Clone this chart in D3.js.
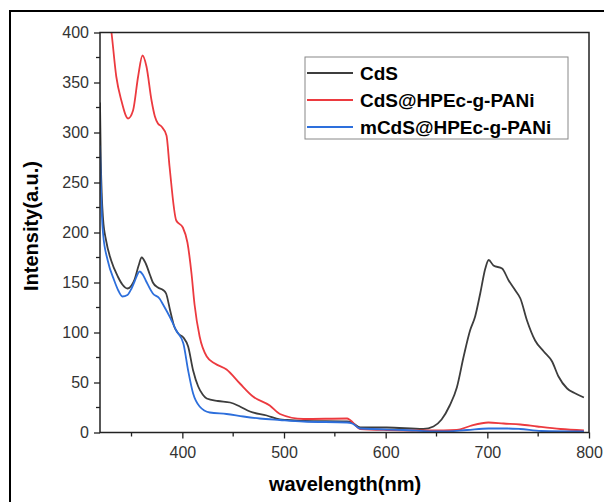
<!DOCTYPE html>
<html>
<head>
<meta charset="utf-8">
<script src="https://cdn.jsdelivr.net/npm/d3@7"></script>
<style>
	body { margin: 0; background: #fff; }
	text { font-family: Arial, "Liberation Sans", Helvetica, sans-serif; }
</style>
</head>
<body>
<div id="chart"></div>
<script>
var seriesNames = ['CdS', 'CdS@HPEc-g-PANi', 'mCdS@HPEc-g-PANi'];
var seriesColor = ['#3d3d3d', '#ec3a3f', '#2d6fdc'];
var xTicks = [400, 500, 600, 700, 800];
var yTicks = [0, 50, 100, 150, 200, 250, 300, 350, 400];

// [wavelength, intensity]
var cds = [[319, 330], [319.8, 272], [320.8, 236], [322, 214], [325, 192], [330, 172], [336.5, 156], [341, 148],
	[346, 144], [350, 147], [353, 153], [357, 167], [360, 175], [364, 169], [368, 158], [371, 150], [376, 145],
	[381, 142.5], [384, 139], [388, 122], [392, 106], [396, 99], [401, 95], [405.7, 86], [410.6, 62], [415.6, 46],
	[420, 38], [424, 34], [435, 31.5], [447, 30], [456.6, 26], [466.5, 21], [483, 17], [496, 13], [503, 12.5],
	[520, 11.5], [562, 11], [567, 10], [575, 5], [601, 5], [637, 3.5], [647, 6], [655, 13], [663, 27], [670, 45],
	[676.7, 76], [683, 102], [688, 116], [693, 139], [698, 164], [701.3, 172.5], [706, 167], [714.5, 164],
	[721, 152], [727.6, 142], [732.5, 134], [739, 112], [747, 92], [755.5, 81], [763.7, 71], [770, 56],
	[778.5, 44], [786.7, 39], [795, 35]];
var cdsPani = [[318.5, 520], [325, 440], [330.3, 400], [335, 356], [340, 332], [346.6, 314], [351.5, 322],
	[356.5, 356], [360.8, 377], [364.7, 366], [369.7, 332], [373, 316], [376, 309], [379.5, 306], [384.4, 297],
	[387.4, 266], [394, 212], [400.5, 205], [405, 190], [409, 159], [412, 128], [417, 96], [424, 76], [432, 69],
	[443.5, 63], [456.6, 49], [469.5, 36], [486, 27], [496, 18.5], [519, 13.5], [562, 14], [565, 12.5],
	[575, 3.5], [601, 2.5], [644, 2], [670, 2.5], [683, 6.5], [701, 10], [716, 9], [732.5, 8], [749, 6],
	[772, 3.5], [795, 2]];
var mcdsPani = [[319, 287], [319.8, 250], [320.8, 218], [322, 199], [326.6, 172], [333, 152], [337, 142],
	[341, 136], [346, 137.5], [350, 144], [353, 151], [358, 161], [361, 158], [364, 152], [371, 139],
	[377.5, 134], [381, 128], [388, 115], [394, 102], [401, 89], [405.7, 62], [410.6, 39], [417, 26], [427, 20],
	[443.5, 18.5], [460, 16], [476, 14], [496, 12.5], [519, 11], [562, 10], [567, 9], [575, 4], [617, 2.5],
	[654, 1], [680, 2.5], [701, 4], [720, 4], [732, 3.5], [753, 1.5], [795, 1]];
var allSeries = [cds, cdsPani, mcdsPani];

var width = 604, height = 502;
var plot = { left: 100, right: 589, top: 32.5, bottom: 432.5 };

var svg = d3.select('#chart').append('svg')
	.attr('width', width)
	.attr('height', height);

// outer frame, runs off the right and bottom edge
svg.append('rect')
	.attr('x', 10).attr('y', 11)
	.attr('width', 620).attr('height', 520)
	.attr('fill', '#fff')
	.attr('stroke', '#000')
	.attr('stroke-width', 2);

var xScale = d3.scaleLinear().domain([319, 800]).range([plot.left, plot.right]);
var yScale = d3.scaleLinear().domain([0, 400]).range([plot.bottom, plot.top]);

svg.append('clipPath').attr('id', 'clip')
	.append('rect')
	.attr('x', plot.left).attr('y', plot.top)
	.attr('width', plot.right - plot.left).attr('height', plot.bottom - plot.top);

var line = d3.line()
	.x(d => xScale(d[0]))
	.y(d => yScale(d[1]))
	.curve(d3.curveMonotoneX);

svg.append('g')
	.attr('clip-path', 'url(#clip)')
	.selectAll('path')
	.data(allSeries)
	.enter()
	.append('path')
	.attr('d', line)
	.attr('fill', 'none')
	.attr('stroke', (d, i) => seriesColor[i])
	.attr('stroke-width', 1.8)
	.attr('stroke-linejoin', 'round');

// axes
var axisColor = '#222';
var xAxis = d3.axisBottom(xScale).tickValues(xTicks).tickSize(6).tickPadding(8);
var yAxis = d3.axisLeft(yScale).tickValues(yTicks).tickSize(6).tickPadding(5);

var gx = svg.append('g')
	.attr('transform', 'translate(0,' + plot.bottom + ')')
	.call(xAxis);
var gy = svg.append('g')
	.attr('transform', 'translate(' + plot.left + ',0)')
	.call(yAxis);

// minor ticks
svg.append('g')
	.selectAll('line')
	.data([350, 450, 550, 650, 750])
	.enter()
	.append('line')
	.attr('x1', d => xScale(d)).attr('x2', d => xScale(d))
	.attr('y1', plot.bottom).attr('y2', plot.bottom + 4)
	.attr('stroke', axisColor).attr('stroke-width', 1.3);
svg.append('g')
	.selectAll('line')
	.data([25, 75, 125, 175, 225, 275, 325, 375])
	.enter()
	.append('line')
	.attr('y1', d => yScale(d)).attr('y2', d => yScale(d))
	.attr('x1', plot.left - 4).attr('x2', plot.left)
	.attr('stroke', axisColor).attr('stroke-width', 1.3);

[gx, gy].forEach(g => {
	g.select('.domain').remove();
	g.selectAll('.tick line').attr('stroke', axisColor).attr('stroke-width', 1.3);
	g.selectAll('.tick text')
		.attr('fill', '#333')
		.style('font-size', '16px')
		.style('font-family', 'Arial, "Liberation Sans", sans-serif');
});

// box around plot
svg.append('rect')
	.attr('x', plot.left).attr('y', plot.top)
	.attr('width', plot.right - plot.left).attr('height', plot.bottom - plot.top)
	.attr('fill', 'none')
	.attr('stroke', axisColor)
	.attr('stroke-width', 1.5);

// axis titles
svg.append('text')
	.attr('x', 345).attr('y', 491)
	.attr('text-anchor', 'middle')
	.style('font-size', '20px')
	.style('font-weight', 'bold')
	.text('wavelength(nm)');

svg.append('text')
	.attr('transform', 'translate(38,226) rotate(-90)')
	.attr('text-anchor', 'middle')
	.style('font-size', '20px')
	.style('font-weight', 'bold')
	.text('Intensity(a.u.)');

// legend
var legend = svg.append('g');
legend.append('rect')
	.attr('x', 305).attr('y', 57)
	.attr('width', 263).attr('height', 82)
	.attr('fill', '#fff')
	.attr('stroke', '#888')
	.attr('stroke-width', 1);

var items = legend.selectAll('.item')
	.data(seriesNames)
	.enter()
	.append('g')
	.attr('transform', (d, i) => 'translate(0,' + (73 + i * 27) + ')');
items.append('line')
	.attr('x1', 307).attr('x2', 353)
	.attr('stroke', (d, i) => seriesColor[i])
	.attr('stroke-width', 2);
items.append('text')
	.attr('x', 360).attr('y', 7)
	.style('font-size', '19px')
	.style('font-weight', 'bold')
	.text(String);
</script>
</body>
</html>
